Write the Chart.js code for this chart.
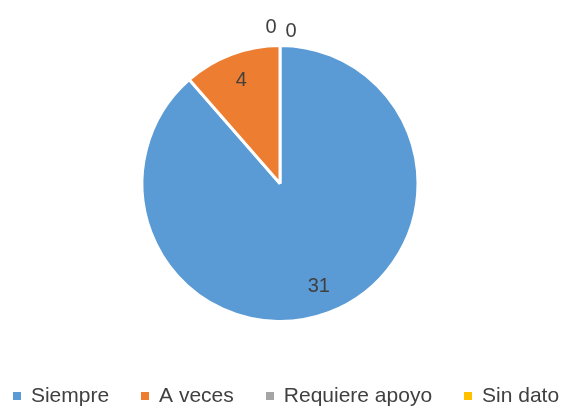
<!DOCTYPE html>
<html>
<head>
<meta charset="utf-8">
<script src="https://cdn.jsdelivr.net/npm/chart.js@4/dist/chart.umd.min.js"></script>
<style>
  html, body { margin: 0; padding: 0; background: #fff; }
  #wrap { width: 562px; height: 409px; }
</style>
</head>
<body>
<div id="wrap"><canvas id="chart"></canvas></div>
<script>
const categories = ['Siempre', 'A veces', 'Requiere apoyo', 'Sin dato'];
const values = [31, 4, 0, 0];
const colors = ['#5B9BD5', '#ED7D31', '#A5A5A5', '#FFC000'];

const textColor = '#404040';
const fontFamily = "'Liberation Sans', Arial, sans-serif";

// data labels: inside the slice, or just above the pie for empty slices
const sliceLabels = {
    id: 'sliceLabels',
    afterDatasetsDraw(chart) {
        let ctx = chart.ctx;
        let meta = chart.getDatasetMeta(0);
        let zeroCount = 0;
        ctx.save();
        ctx.font = '20px ' + fontFamily;
        ctx.fillStyle = textColor;
        ctx.textAlign = 'center';
        ctx.textBaseline = 'middle';
        meta.data.forEach((arc, i) => {
            let p = arc.getProps(['x', 'y', 'startAngle', 'endAngle', 'outerRadius'], true);
            let value = chart.data.datasets[0].data[i];
            let x, y;
            if (value === 0) {
                x = p.x + (zeroCount === 0 ? -9 : 11);
                y = p.y - p.outerRadius - (zeroCount === 0 ? 18 : 14);
                zeroCount++;
            } else {
                let mid = (p.startAngle + p.endAngle) / 2;
                let r = p.outerRadius * 0.8;
                x = p.x + Math.cos(mid) * r;
                y = p.y + Math.sin(mid) * r;
            }
            ctx.fillText(String(value), x, y);
        });
        ctx.restore();
    }
};

// legend row under the pie
const bottomLegend = {
    id: 'bottomLegend',
    afterDraw(chart) {
        let ctx = chart.ctx;
        let box = 8, gapText = 10, gapItem = 32;
        let rowY = 396, centerX = 286;
        ctx.save();
        ctx.font = '21px ' + fontFamily;
        let widths = categories.map(c => ctx.measureText(c).width);
        let total = widths.reduce((a, w) => a + box + gapText + w, 0) + gapItem * (categories.length - 1);
        let x = centerX - total / 2;
        ctx.textBaseline = 'middle';
        ctx.textAlign = 'left';
        categories.forEach((c, i) => {
            ctx.fillStyle = colors[i];
            ctx.fillRect(Math.round(x), rowY - 4, box, box);
            ctx.fillStyle = textColor;
            ctx.fillText(c, x + box + gapText, rowY);
            x += box + gapText + widths[i] + gapItem;
        });
        ctx.restore();
    }
};

new Chart(document.getElementById('chart'), {
    type: 'pie',
    data: {
        labels: categories,
        datasets: [{
            data: values,
            backgroundColor: colors,
            borderColor: '#ffffff',
            borderWidth: 3,
            radius: 138
        }]
    },
    options: {
        responsive: true,
        maintainAspectRatio: false,
        animation: false,
        layout: { padding: { top: 0, left: 0, right: 2, bottom: 42 } },
        plugins: {
            legend: { display: false },
            tooltip: { enabled: false }
        }
    },
    plugins: [sliceLabels, bottomLegend]
});
</script>
</body>
</html>
